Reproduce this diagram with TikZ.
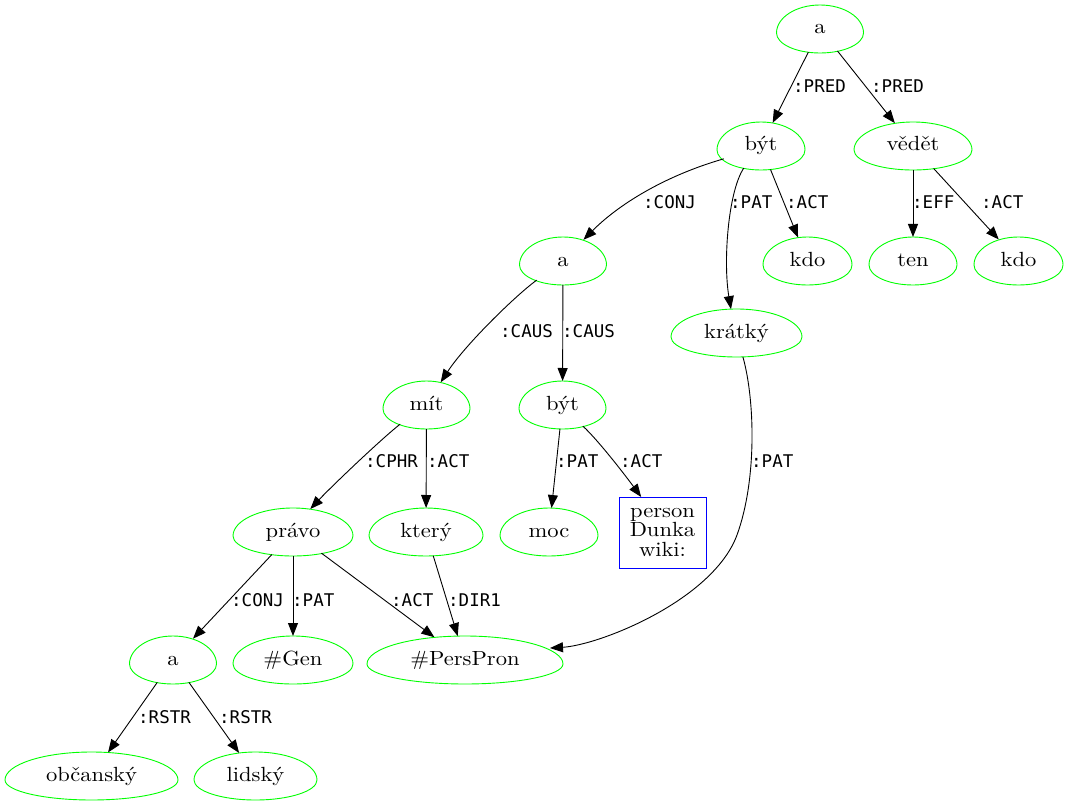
\documentclass[tikz,border=0pt]{standalone}
\usepackage{fontspec}
\newfontfamily\lblfont{DejaVu Sans Mono}
\newfontfamily\wordfam[FakeStretch=1.1]{lmroman10-regular.otf}
\usetikzlibrary{arrows.meta,shapes.geometric}

\definecolor{eggGreen}{RGB}{0,255,0}
\definecolor{boxBlue}{RGB}{0,0,255}

\newcommand\wordfont{\wordfam\fontsize{20.5}{24}\selectfont}
\newcommand\boxfont{\wordfam\fontsize{20.5}{19.5}\selectfont}

\tikzset{
  eggnode/.style={ellipse, inner sep=0pt, outer sep=0pt, minimum height=48pt,
    font=\wordfont, text height=14pt, text depth=4pt},
  eggline/.style={draw=eggGreen, line width=0.9pt},
  wikibox/.style={rectangle, draw=boxBlue, line width=0.9pt, minimum width=87pt,
    minimum height=71pt, inner sep=0pt, outer sep=0pt, align=center,
    font=\boxfont},
  edge/.style={draw=black, line width=0.9pt, -{Triangle[length=13pt,width=10pt]}},
  lbl/.style={anchor=west, inner sep=0pt, font=\lblfont\fontsize{17.5}{18}\selectfont,
    text height=12.7pt, text depth=0pt},
}

% egg-shaped node: name, centre x, top y, half width, text
\newcommand\drawegg[5]{%
  \node[eggnode, minimum width={2*#4pt}] (#1) at (#2,{#3+24}) {#5};
  \draw[eggline] ({#2+#4},{#3+28})
    .. controls ({#2+#4},{#3+12.5}) and ({#2+0.5523*#4},{#3}) .. (#2,#3)
    .. controls ({#2-0.5523*#4},{#3}) and ({#2-#4},{#3+12.5}) .. ({#2-#4},{#3+28})
    .. controls ({#2-#4},{#3+39}) and ({#2-0.5523*#4},{#3+48}) .. (#2,{#3+48})
    .. controls ({#2+0.5523*#4},{#3+48}) and ({#2+#4},{#3+39}) .. cycle;
}

\begin{document}
\begin{tikzpicture}[x=1pt,y=-1pt]
\useasboundingbox (0,0) rectangle (1068,805);

% nodes
\drawegg{a0}{820}{5}{43.5}{a}
\drawegg{byt1}{761}{122}{44}{být}
\drawegg{vedet}{913}{122}{59}{vědět}
\drawegg{a2}{563}{237}{43.5}{a}
\drawegg{kdo1}{807.5}{237}{44.5}{kdo}
\drawegg{ten}{913}{237}{44}{ten}
\drawegg{kdo2}{1018.5}{237}{44.5}{kdo}
\drawegg{kratky}{736.5}{309}{65.5}{krátký}
\drawegg{mit}{426.5}{381}{43.5}{mít}
\drawegg{byt2}{562.5}{381}{43.5}{být}
\drawegg{pravo}{293}{508}{60}{právo}
\drawegg{ktery}{426}{508}{57}{který}
\drawegg{moc}{549}{508}{49}{moc}
\node[wikibox] (wiki) at (662.5,532.5) {person\\Dunka\\wiki:};
\drawegg{a3}{173}{636}{43.5}{a}
\drawegg{gen}{293}{636}{60}{\#Gen}
\drawegg{perspron}{465}{636}{98}{\#PersPron}
\drawegg{obcansky}{91.5}{752}{86.5}{občanský}
\drawegg{lidsky}{255.5}{752}{61.5}{lidský}

% connectors
\coordinate (krbend) at (737,535);
\draw[edge] (a0) -- (byt1);
\draw[edge] (a0) -- (vedet);
\draw[edge] (byt1.199) .. controls (664,176) and (618,205) .. (a2.46);
\draw[edge] (byt1.232) .. controls (728,192) and (723,262) .. (kratky.103);
\draw[edge] (byt1) -- (kdo1);
\draw[edge] (vedet) -- (ten);
\draw[edge] (vedet) -- (kdo2);
\draw[edge] (a2.216) .. controls (515,296) and (465,345) .. (mit.58);
\draw[edge] (a2) -- (byt2);
\draw[edge] (kratky.-75) .. controls (755,400) and (757,480) .. (krbend)
  .. controls (713,600) and (600,645) .. (perspron.8);
\draw[edge] (mit.216) .. controls (380,440) and (330,488) .. (pravo.53);
\draw[edge] (mit) -- (ktery);
\draw[edge] (byt2) -- (moc);
\draw[edge] (byt2.-46) .. controls (598,440) and (625,475) .. (wiki.121);
\draw[edge] (pravo) -- (a3);
\draw[edge] (pravo) -- (gen);
\draw[edge] (pravo) -- (perspron);
\draw[edge] (ktery) -- (perspron);
\draw[edge] (a3) -- (obcansky);
\draw[edge] (a3) -- (lidsky);

% connector labels
\node[lbl] (l1) at (793,86) {:PRED};
\node[lbl] (l2) at (871,86) {:PRED};
\node[lbl] (l3) at (643,202) {:CONJ};
\node[lbl] (l4) at (730,202) {:PAT};
\node[lbl] (l5) at (786,202) {:ACT};
\node[lbl] (l6) at (912,202) {:EFF};
\node[lbl] (l7) at (981,202) {:ACT};
\node[lbl] (l8) at (500,331) {:CAUS};
\node[lbl] (l9) at (562,331) {:CAUS};
\node[lbl] (l10) at (365,461) {:CPHR};
\node[lbl] (l11) at (427,461) {:ACT};
\node[lbl] (l12) at (556,461) {:PAT};
\node[lbl] (l13) at (620,461) {:ACT};
\node[lbl] (l14) at (751,461) {:PAT};
\node[lbl] (l15) at (231,600) {:CONJ};
\node[lbl] (l16) at (292,600) {:PAT};
\node[lbl] (l17) at (391,600) {:ACT};
\node[lbl] (l18) at (448,600) {:DIR1};
\node[lbl] (l19) at (138,717) {:RSTR};
\node[lbl] (l20) at (219,717) {:RSTR};
\end{tikzpicture}
\end{document}
